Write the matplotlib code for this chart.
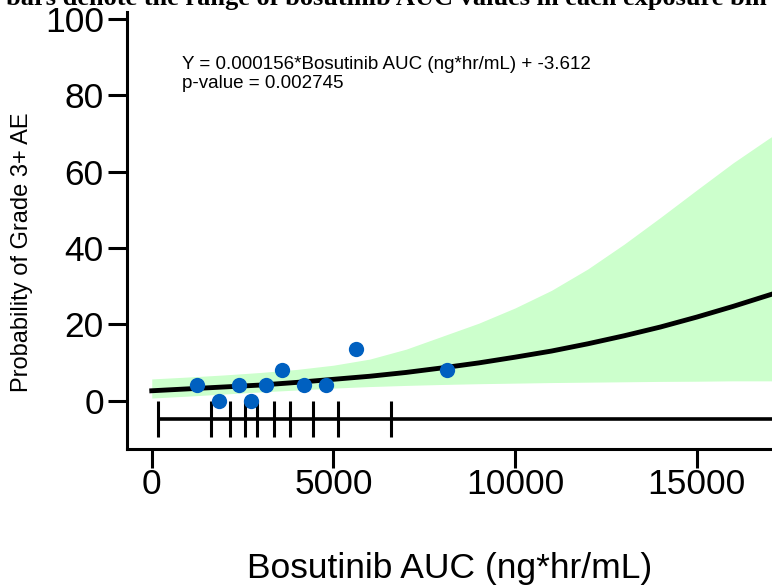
import matplotlib
matplotlib.use("Agg")
import matplotlib.pyplot as plt

# binned observed data
bin_auc = [1238, 1851, 2393, 2732, 3144, 3576, 4181, 4803, 5620, 8115]
bin_prob = [4.0, 0.0, 4.0, 0.0, 4.0, 8.0, 4.0, 4.0, 13.5, 8.0]
bin_edges = [182, 1623, 2154, 2558, 2905, 3356, 3813, 4429, 5133, 6574, 17100]

# logistic fit and 95% CI
grid_auc = [0, 1000, 2000, 3000, 4000, 5000, 6000, 7000, 8000, 9000, 10000,
            11000, 12000, 13000, 14000, 15000, 16000, 17000, 17100]
fit_prob = [2.6, 3.1, 3.6, 4.1, 4.8, 5.6, 6.4, 7.4, 8.6, 9.9, 11.4,
            13.0, 14.9, 17.0, 19.3, 21.9, 24.7, 27.7, 28.0]
ci_upper = [5.7, 6.2, 6.75, 7.4, 8.2, 9.3, 10.9, 13.5, 16.9, 20.3, 24.3,
            28.9, 34.5, 41.0, 48.0, 55.2, 62.3, 68.8, 69.4]
ci_lower = [0.7, 1.2, 1.75, 2.3, 2.8, 3.3, 3.7, 4.0, 4.25, 4.45, 4.6,
            4.75, 4.85, 4.95, 5.05, 5.1, 5.2, 5.2, 5.2]

xticks = [0, 5000, 10000, 15000]
yticks = [0, 20, 40, 60, 80, 100]
bar_y = -4.8

plt.rcParams['font.family'] = ['Liberation Sans', 'DejaVu Sans']

fig = plt.figure(figsize=(7.72, 5.86), dpi=100)
ax = fig.add_axes([0.1641, 0.2338, 0.8359, 0.7457])

ax.fill_between(grid_auc, ci_lower, ci_upper, color='#CCFFCC', linewidth=0)
ax.plot(grid_auc, fit_prob, color='black', linewidth=3.5)

ax.hlines(bar_y, bin_edges[0], bin_edges[-1], color='black', linewidth=2.6)
ax.vlines(bin_edges, bar_y - 4.6, bar_y + 4.6, color='black', linewidth=2.2)

ax.plot(bin_auc, bin_prob, 'o', color='#0060C0', markersize=11,
        markeredgewidth=0, zorder=5)

ax.set_xlim(-690, 17070)
ax.set_ylim(-12.65, 101.8)
ax.set_xticks(xticks)
ax.set_yticks(yticks)
ax.tick_params(axis='both', labelsize=25.5, width=2.2, length=13.5)
ax.tick_params(axis='x', pad=0)
ax.tick_params(axis='y', pad=3)

for s in ['top', 'right']:
    ax.spines[s].set_visible(False)
for s in ['left', 'bottom']:
    ax.spines[s].set_linewidth(2.2)

ax.set_xlabel('Bosutinib AUC (ng*hr/mL)', fontsize=25.5)
ax.xaxis.set_label_coords(0.501, -0.235)
fig.text(22 / 772, 1 - 252 / 586, 'Probability of Grade 3+ AE', fontsize=17,
         rotation=90, ha='center', va='center')

fig.text(182 / 772, 1 - 69 / 586, 'Y = 0.000156*Bosutinib AUC (ng*hr/mL) + -3.612',
         fontsize=13.5, va='baseline', ha='left')
fig.text(182 / 772, 1 - 88 / 586, 'p-value = 0.002745',
         fontsize=13.5, va='baseline', ha='left')

# title is cropped at the top in the original picture
fig.text(767 / 772, 1 - 5 / 586,
         'bars denote the range of bosutinib AUC values in each exposure bin',
         family='Liberation Serif', fontweight='bold', fontsize=19,
         va='baseline', ha='right')

fig.savefig('out.png', dpi=100)
